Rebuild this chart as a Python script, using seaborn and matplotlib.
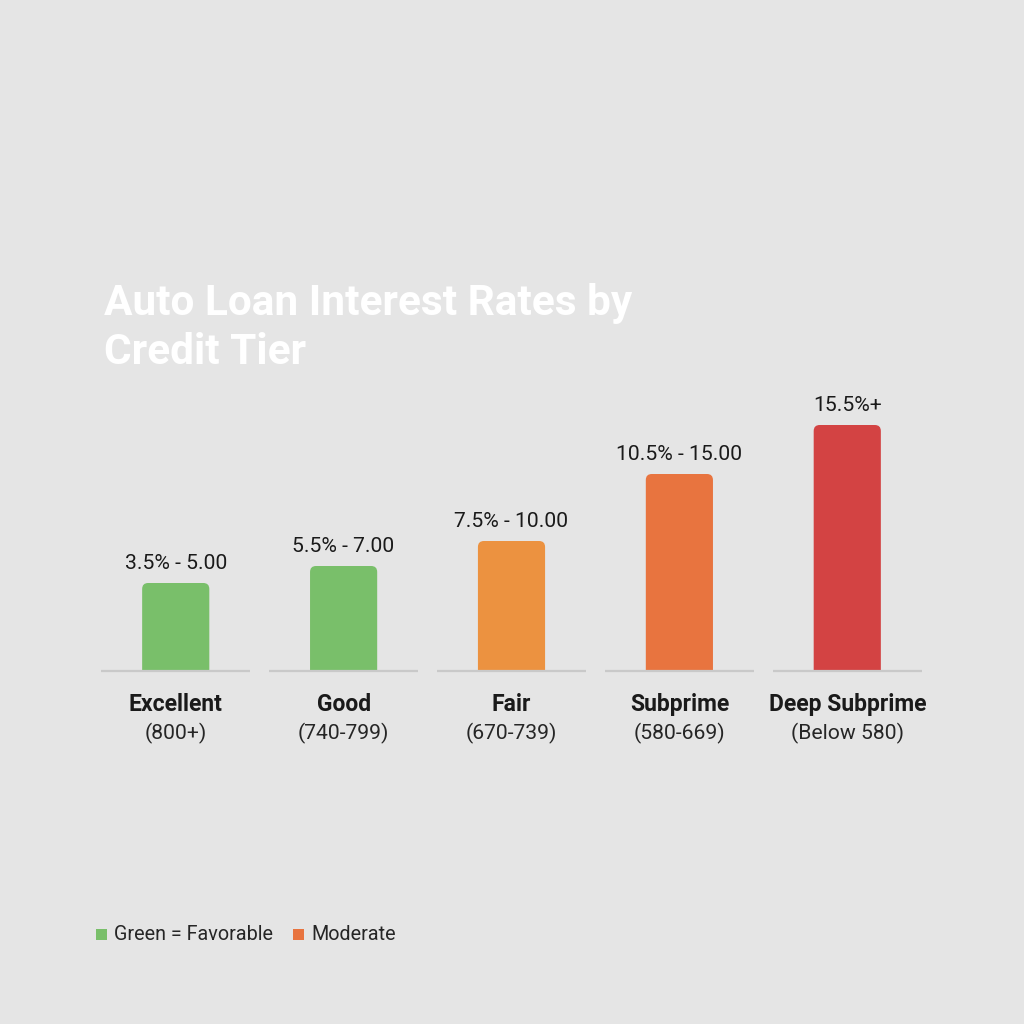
import matplotlib
matplotlib.use("Agg")
import matplotlib.pyplot as plt
import seaborn as sns
import pandas as pd
from matplotlib.patches import FancyBboxPatch, Rectangle

# ---- data ----
tiers = ["Excellent", "Good", "Fair", "Subprime", "Deep Subprime"]
score_ranges = ["(800+)", "(740-799)", "(670-739)", "(580-669)", "(Below 580)"]
rate_labels = ["3.5% - 5.00", "5.5% - 7.00", "7.5% - 10.00", "10.5% - 15.00", "15.5%+"]
bar_heights = [4.4, 5.25, 6.5, 9.85, 12.3]   # relative bar heights
bar_colors = ["#79bf6a", "#79bf6a", "#ec9240", "#e8743f", "#d34343"]
legend_labels = ["Green = Favorable", "Moderate"]
legend_colors = ["#79bf6a", "#e8743f"]
title = "Auto Loan Interest Rates by\nCredit Tier"

BG = "#e5e5e5"
sns.set_theme(style="white")
plt.rcParams["font.family"] = ["Roboto", "DejaVu Sans"]

fig = plt.figure(figsize=(10.24, 10.24), dpi=100)
fig.patch.set_facecolor(BG)

# axes: baseline at y=671px, top at 400px; x from 75px to 948px
ax = fig.add_axes([75 / 1024, 1 - 671 / 1024, 873 / 1024, 271 / 1024])
ax.set_facecolor(BG)

df = pd.DataFrame({"tier": tiers, "height": bar_heights})
sns.barplot(data=df, x="tier", y="height", hue="tier", palette=bar_colors,
            legend=False, width=0.4, ax=ax, saturation=1)
ax.set_xlim(-0.6, 4.6)
ax.set_ylim(0, 13.55)

# replace rectangles with rounded-top bars
r_px = 6
x_per_px = 1 / 168
y_per_px = 1 / 20
for p in list(ax.patches):
    x, y = p.get_x(), p.get_y()
    w, h = p.get_width(), p.get_height()
    fc = p.get_facecolor()
    p.remove()
    fb = FancyBboxPatch((x, y - r_px * y_per_px * 2), w, h + r_px * y_per_px * 2,
                        boxstyle=f"round,pad=0,rounding_size={r_px * x_per_px}",
                        mutation_aspect=y_per_px / x_per_px,
                        facecolor=fc, edgecolor="none", clip_on=True, zorder=2)
    ax.add_patch(fb)

# baseline segments
for i in range(len(tiers)):
    ax.plot([i - 0.445, i + 0.445], [0, 0], color="#c9c9c9", lw=1.6,
            solid_capstyle="butt", clip_on=False, zorder=3)

# value labels
for i, (h, lab) in enumerate(zip(bar_heights, rate_labels)):
    ax.annotate(lab, (i, h), xytext=(0, 7.5), textcoords="offset points",
                ha="center", va="bottom", fontsize=15.2, color="#1a1a1a")

# category labels
for i, (t, s) in enumerate(zip(tiers, score_ranges)):
    ax.annotate(t, (i, 0), xytext=(0, -24), textcoords="offset points",
                ha="center", va="center", fontsize=16.5, fontweight="bold",
                color="#1a1a1a", annotation_clip=False)
    ax.annotate(s, (i, 0), xytext=(0, -45), textcoords="offset points",
                ha="center", va="center", fontsize=15.2, color="#262626",
                annotation_clip=False)

ax.set_xticks([])
ax.set_yticks([])
ax.set_xlabel("")
ax.set_ylabel("")
for s in ax.spines.values():
    s.set_visible(False)

# title
fig.text(104 / 1024, 1 - 328 / 1024, title, ha="left", va="center",
         fontsize=30.5, fontweight="bold", color="white", linespacing=1.24)

# legend
lx = [96, 293]
for x0, lab, col in zip(lx, legend_labels, legend_colors):
    fig.patches.append(Rectangle((x0 / 1024, 1 - 940 / 1024), 11 / 1024, 11 / 1024,
                                 transform=fig.transFigure, facecolor=col,
                                 edgecolor="none"))
    fig.text((x0 + 18) / 1024, 1 - 934 / 1024, lab, ha="left", va="center",
             fontsize=14.2, color="#262626")

fig.savefig("out.png", dpi=100, facecolor=BG)
